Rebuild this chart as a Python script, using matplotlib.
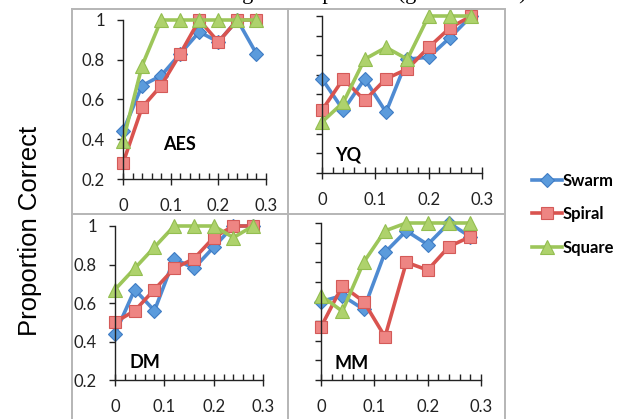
import numpy as np
import matplotlib
matplotlib.use("Agg")
from matplotlib import pyplot as plt
from matplotlib.lines import Line2D
from matplotlib.ticker import MultipleLocator, NullFormatter

# gap sizes on the x axis
gaps = [0, 0.04, 0.08, 0.12, 0.16, 0.2, 0.24, 0.28]
x_ticks = [0, 0.1, 0.2, 0.3]
x_ticklabels = ["0", "0.1", "0.2", "0.3"]
y_ticks = [0.2, 0.4, 0.6, 0.8, 1.0]
y_ticklabels = ["0.2", "0.4", "0.6", "0.8", "1"]

# proportion correct per participant
aes_swarm = [0.44, 0.67, 0.72, 0.83, 0.94, 0.89, 1.0, 0.83]
aes_spiral = [0.28, 0.56, 0.67, 0.83, 1.0, 0.89, 1.0, 1.0]
aes_square = [0.39, 0.77, 1.0, 1.0, 1.0, 1.0, 1.0, 1.0]

yq_swarm = [0.68, 0.52, 0.68, 0.51, 0.78, 0.79, 0.89, 1.0]
yq_spiral = [0.52, 0.68, 0.57, 0.68, 0.73, 0.84, 0.94, 1.0]
yq_square = [0.46, 0.56, 0.78, 0.84, 0.78, 1.0, 1.0, 1.0]

dm_swarm = [0.44, 0.67, 0.56, 0.83, 0.78, 0.89, 1.0, 1.0]
dm_spiral = [0.5, 0.56, 0.67, 0.78, 0.83, 0.94, 1.0, 1.0]
dm_square = [0.67, 0.78, 0.89, 1.0, 1.0, 1.0, 0.94, 1.0]

mm_swarm = [0.6, 0.63, 0.56, 0.85, 0.96, 0.89, 1.0, 0.93]
mm_spiral = [0.47, 0.68, 0.6, 0.42, 0.8, 0.76, 0.88, 0.93]
mm_square = [0.63, 0.55, 0.8, 0.96, 1.0, 1.0, 1.0, 1.0]

names = ["AES", "YQ", "DM", "MM"]
series_names = ["Swarm", "Spiral", "Square"]
panel_data = [
    [aes_swarm, aes_spiral, aes_square],
    [yq_swarm, yq_spiral, yq_square],
    [dm_swarm, dm_spiral, dm_square],
    [mm_swarm, mm_spiral, mm_square],
]

styles = [
    dict(color="#4F8BD2", marker="D", mfc="#5B9BDC", mec="#3F7CC4", ms=7.5),
    dict(color="#D9534F", marker="s", mfc="#EE8583", mec="#D45A58", ms=9),
    dict(color="#9DC65A", marker="^", mfc="#AED26C", mec="#93BE50", ms=9.5),
]

W, H = 628, 419
fig = plt.figure(figsize=(W / 100, H / 100), dpi=100)


def px_box(x0, y_top, x1, y_bot):
    return [x0 / W, 1 - y_bot / H, (x1 - x0) / W, (y_bot - y_top) / H]


# plot area rectangles in pixels (left, top, right, bottom)
boxes = [
    (123, 20, 266, 179),
    (322, 16, 482, 173),
    (115, 226, 263, 380),
    (321, 223, 481, 380),
]
label_pos = [(180, 145), (348, 155), (145, 362), (352, 363)]

tick_font = dict(family="Lato", size=12)
axes = []
for i, (name, data) in enumerate(zip(names, panel_data)):
    ax = fig.add_axes(px_box(*boxes[i]))
    axes.append(ax)
    for vals, st, sname in zip(data, styles, series_names):
        ax.plot(gaps, vals, lw=2.6, label=sname, mew=0.8, clip_on=False, **st)
    ax.set_xlim(0, 0.3)
    ax.set_ylim(0.2, 1.0)
    for s in ["top", "right"]:
        ax.spines[s].set_visible(False)
    for s in ["left", "bottom"]:
        ax.spines[s].set_color("#222222")
        ax.spines[s].set_linewidth(1.0)
    ax.set_xticks(x_ticks)
    ax.set_xticklabels(x_ticklabels, fontdict=tick_font)
    ax.xaxis.set_minor_locator(MultipleLocator(0.02))
    ax.tick_params(axis="x", which="major", direction="inout", length=8,
                   width=1, pad=10, colors="#222222", labelcolor="#222222")
    ax.tick_params(axis="x", which="minor", direction="in", length=4,
                   width=1, colors="#222222")
    if i % 2 == 0:
        ax.set_yticks(y_ticks)
        ax.set_yticklabels(y_ticklabels, fontdict=tick_font)
    else:
        ax.set_yticks(np.round(np.arange(0.2, 1.01, 0.1), 2))
        ax.yaxis.set_major_formatter(NullFormatter())
    ax.tick_params(axis="y", which="major", direction="out", length=4,
                   width=1, pad=9, colors="#222222", labelcolor="#222222")
    ax.patch.set_alpha(0)
    lx, ly = label_pos[i]
    fig.text(lx / W, 1 - ly / H, name, ha="center", va="center",
             fontsize=13, fontweight="bold", family="Lato")

# panel frames
frame = dict(color="#B5B5B5", lw=1.4)
fig.add_artist(Line2D([72 / W, 72 / W], [0, 1 - 9 / H], **frame))
fig.add_artist(Line2D([288 / W, 288 / W], [0, 1 - 9 / H], **frame))
fig.add_artist(Line2D([505 / W, 505 / W], [0, 1 - 10 / H], **frame))
fig.add_artist(Line2D([72 / W, 505 / W], [1 - 9 / H, 1 - 9 / H], **frame))
fig.add_artist(Line2D([72 / W, 505 / W], [1 - 214 / H, 1 - 214 / H], **frame))

fig.text(30 / W, 1 - 231 / H, "Proportion Correct", rotation=90,
         ha="center", va="center", fontsize=18.5, family="Liberation Sans")

# caption above, cut off by the top edge in the source image
fig.text(350 / W, 1 + 1 / H, "Learning curves per trial (grid distance)",
         ha="center", va="baseline", fontsize=16, family="Liberation Serif")

handles, labels = axes[0].get_legend_handles_labels()
fig.legend(handles, labels, loc="upper left", bbox_to_anchor=(525 / W, 1 - 166 / H),
           frameon=False, handlelength=1.8, handletextpad=0.05, labelspacing=1.05,
           borderaxespad=0, prop=dict(family="Lato", weight="bold", size=12))

fig.savefig("out.png", dpi=100)
